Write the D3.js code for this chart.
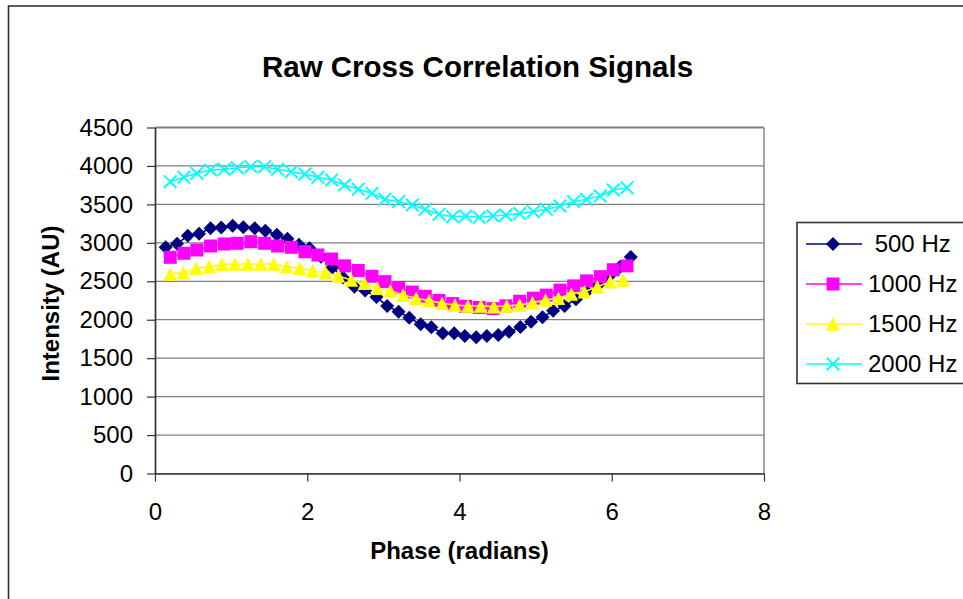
<!DOCTYPE html>
<html>
<head>
<meta charset="utf-8">
<script src="https://cdn.jsdelivr.net/npm/d3@7"></script>
<style>
	body { margin: 0; background: #fff; }
	svg text { font-family: "Liberation Sans", Arial, sans-serif; fill: #000; }
</style>
</head>
<body>
<svg id="chart_svg"></svg>
<script>

var w = 963;
var h = 599;

// phase (radians) of each sample, per series
var phase_500 = [0.14, 0.29, 0.43, 0.58, 0.73, 0.87, 1.02, 1.16, 1.31, 1.45, 1.60, 1.74, 1.89, 2.03, 2.18,
	2.33, 2.47, 2.62, 2.76, 2.91, 3.05, 3.20, 3.34, 3.49, 3.63, 3.78, 3.93, 4.07, 4.22, 4.36,
	4.51, 4.65, 4.80, 4.94, 5.09, 5.23, 5.38, 5.53, 5.67, 5.82, 5.96, 6.11, 6.25];
var phase_1000 = [0.20, 0.38, 0.55, 0.73, 0.91, 1.08, 1.26, 1.44, 1.61, 1.79, 1.97, 2.14, 2.32, 2.49, 2.67,
	2.85, 3.02, 3.20, 3.38, 3.55, 3.73, 3.91, 4.08, 4.26, 4.44, 4.61, 4.79, 4.97, 5.14, 5.32,
	5.50, 5.67, 5.85, 6.02, 6.20];
var phase_1500 = [0.20, 0.37, 0.54, 0.71, 0.88, 1.05, 1.22, 1.39, 1.56, 1.73, 1.90, 2.07, 2.24, 2.41, 2.58,
	2.75, 2.92, 3.09, 3.26, 3.43, 3.60, 3.77, 3.94, 4.11, 4.28, 4.45, 4.62, 4.79, 4.96, 5.13,
	5.30, 5.47, 5.64, 5.81, 5.98, 6.15];
var phase_2000 = [0.20, 0.38, 0.55, 0.73, 0.91, 1.08, 1.26, 1.44, 1.61, 1.79, 1.97, 2.14, 2.32, 2.49, 2.67,
	2.85, 3.02, 3.20, 3.38, 3.55, 3.73, 3.91, 4.08, 4.26, 4.44, 4.61, 4.79, 4.97, 5.14, 5.32,
	5.50, 5.67, 5.85, 6.02, 6.20];

// intensity (AU)
var int_500 = [2944, 2987, 3091, 3117, 3191, 3199, 3221, 3204, 3191, 3156, 3104, 3052, 2974, 2929, 2820,
	2680, 2550, 2430, 2380, 2295, 2179, 2104, 2026, 1940, 1901, 1823, 1823, 1788, 1771, 1788,
	1801, 1844, 1905, 1974, 2031, 2117, 2179, 2266, 2365, 2450, 2560, 2690, 2816];
var int_1000 = [2812, 2864, 2907, 2959, 2985, 2994, 3015, 2994, 2959, 2942, 2885, 2842, 2790, 2700, 2640,
	2565, 2495, 2420, 2360, 2305, 2250, 2210, 2175, 2160, 2145, 2180, 2240, 2280, 2320, 2385,
	2440, 2505, 2560, 2650, 2700];
var int_1500 = [2595, 2612, 2669, 2690, 2721, 2725, 2725, 2725, 2725, 2690, 2669, 2638, 2612, 2570, 2517,
	2474, 2409, 2378, 2322, 2279, 2248, 2214, 2192, 2179, 2179, 2170, 2179, 2192, 2222, 2257,
	2279, 2335, 2365, 2430, 2495, 2517];
var int_2000 = [3795, 3852, 3904, 3947, 3956, 3977, 3990, 3990, 3956, 3925, 3895, 3852, 3817, 3752, 3696,
	3644, 3566, 3535, 3492, 3436, 3371, 3340, 3349, 3332, 3349, 3362, 3380, 3405, 3436, 3479,
	3535, 3566, 3609, 3687, 3717];

var series_names = [' 500 Hz', '1000 Hz', '1500 Hz', '2000 Hz'];
var series_colors = ['#000080', '#ff00ff', '#ffff00', '#00ffff'];
var series_shapes = ['diamond', 'square', 'triangle', 'cross'];
var series_x = [phase_500, phase_1000, phase_1500, phase_2000];
var series_y = [int_500, int_1000, int_1500, int_2000];

var x_ticks = [0, 2, 4, 6, 8];
var y_ticks = [0, 500, 1000, 1500, 2000, 2500, 3000, 3500, 4000, 4500];

var svg = d3.select('#chart_svg')
	.attr('width', w)
	.attr('height', h);

// chart area frame (runs off the right / bottom edge)
svg.append('rect')
	.attr('x', 8.5).attr('y', 6)
	.attr('width', 1000).attr('height', 700)
	.attr('fill', '#fff')
	.attr('stroke', '#333')
	.attr('stroke-width', 1.6);

var x = d3.scaleLinear().domain([0, 8]).range([155, 764]);
var y = d3.scaleLinear().domain([0, 4500]).range([473.5, 127.5]);

// grid
svg.append('g')
	.selectAll('line')
	.data(y_ticks)
	.enter()
	.append('line')
	.attr('x1', x(0)).attr('x2', x(8))
	.attr('y1', d => y(d)).attr('y2', d => y(d))
	.attr('stroke', '#808080')
	.attr('stroke-width', 1.2);

svg.append('line')
	.attr('x1', x(8)).attr('x2', x(8))
	.attr('y1', y(4500)).attr('y2', y(0))
	.attr('stroke', '#808080')
	.attr('stroke-width', 1.4);
svg.append('line')
	.attr('x1', x(0)).attr('x2', x(8))
	.attr('y1', y(4500)).attr('y2', y(4500))
	.attr('stroke', '#808080')
	.attr('stroke-width', 2);

// axes
var yaxis = svg.append('g')
	.attr('transform', 'translate(' + x(0) + ',0)')
	.call(d3.axisLeft(y).tickValues(y_ticks).tickFormat(d3.format('d'))
		.tickSize(8).tickSizeOuter(0).tickPadding(14));

var xaxis = svg.append('g')
	.attr('transform', 'translate(0,' + y(0) + ')')
	.call(d3.axisBottom(x).tickValues(x_ticks).tickFormat(d3.format('d'))
		.tickSize(8).tickSizeOuter(0).tickPadding(21));

[xaxis, yaxis].forEach(function(a) {
	a.selectAll('path').attr('stroke', '#333').attr('stroke-width', 1.7);
	a.selectAll('line').attr('stroke', '#333').attr('stroke-width', 1.2);
	a.selectAll('text')
		.style('font-size', '24px')
		.attr('fill', '#000');
});

function marker(shape, s) {
	if (shape == 'diamond') return 'M0,' + (-s) + 'L' + s + ',0L0,' + s + 'L' + (-s) + ',0Z';
	if (shape == 'square') return 'M' + (-s) + ',' + (-s) + 'H' + s + 'V' + s + 'H' + (-s) + 'Z';
	if (shape == 'triangle') return 'M0,' + (-s) + 'L' + s + ',' + s + 'L' + (-s) + ',' + s + 'Z';
	return 'M' + (-s) + ',' + (-s) + 'L' + s + ',' + s + 'M' + (-s) + ',' + s + 'L' + s + ',' + (-s);
}

var marker_size = { diamond: 7, square: 6.5, triangle: 6.8, cross: 6.3 };

function draw_marks(g, shape, color) {
	if (shape == 'cross') {
		g.attr('d', marker(shape, marker_size[shape]))
			.attr('fill', 'none')
			.attr('stroke', color)
			.attr('stroke-width', 2);
	} else {
		g.attr('d', marker(shape, marker_size[shape]))
			.attr('fill', color)
			.attr('stroke', 'none');
	}
}

var line = d3.line()
	.x(d => x(d[0]))
	.y(d => y(d[1]));

series_names.forEach(function(name, i) {
	var pts = series_x[i].map(function(p, j) { return [p, series_y[i][j]]; });
	var g = svg.append('g').attr('class', 'series');

	g.append('path')
		.datum(pts)
		.attr('d', line)
		.attr('fill', 'none')
		.attr('stroke', series_colors[i])
		.attr('stroke-width', 1.6);

	g.selectAll('.mk')
		.data(pts)
		.enter()
		.append('path')
		.attr('class', 'mk')
		.attr('transform', d => 'translate(' + x(d[0]) + ',' + y(d[1]) + ')')
		.call(draw_marks, series_shapes[i], series_colors[i]);
});

// titles
svg.append('text')
	.attr('x', 477.5).attr('y', 77)
	.attr('text-anchor', 'middle')
	.style('font-size', '29.5px')
	.style('font-weight', 'bold')
	.text('Raw Cross Correlation Signals');

svg.append('text')
	.attr('x', (x(0) + x(8)) / 2).attr('y', 559)
	.attr('text-anchor', 'middle')
	.style('font-size', '24px')
	.style('font-weight', 'bold')
	.text('Phase (radians)');

svg.append('text')
	.attr('transform', 'translate(59,' + ((y(0) + y(4500)) / 2 + 3) + ') rotate(-90)')
	.attr('text-anchor', 'middle')
	.style('font-size', '24px')
	.style('font-weight', 'bold')
	.text('Intensity (AU)');

// legend
var legend = svg.append('g');

legend.append('rect')
	.attr('x', 797).attr('y', 222.5)
	.attr('width', 300).attr('height', 161)
	.attr('fill', '#fff')
	.attr('stroke', '#333')
	.attr('stroke-width', 1.6);

var rows = legend.selectAll('.row')
	.data(series_names)
	.enter()
	.append('g')
	.attr('class', 'row')
	.attr('transform', (d, i) => 'translate(0,' + (244 + i * 40) + ')');

rows.append('line')
	.attr('x1', 806).attr('x2', 862)
	.attr('stroke', (d, i) => series_colors[i])
	.attr('stroke-width', 1.6);

rows.append('path')
	.attr('transform', 'translate(833,0)')
	.each(function(d, i) {
		d3.select(this).call(draw_marks, series_shapes[i], series_colors[i]);
	});

rows.append('text')
	.attr('x', 868).attr('y', 8)
	.style('font-size', '24px')
	.style('white-space', 'pre')
	.text(d => d);

</script>
</body>
</html>
